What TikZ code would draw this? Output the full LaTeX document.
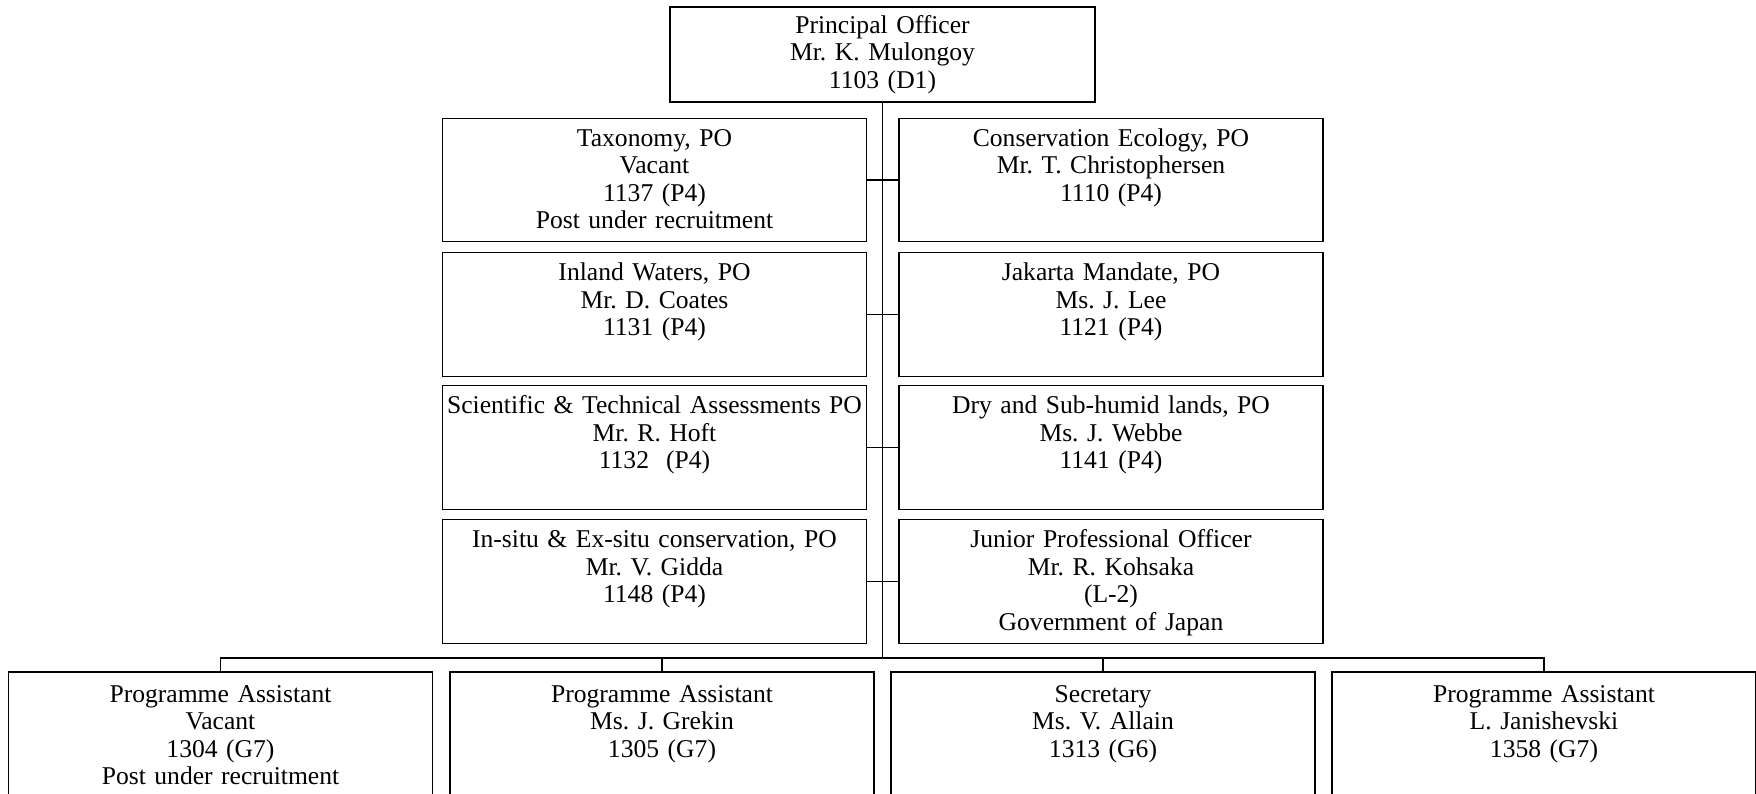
\documentclass[tikz,border=0pt]{standalone}
\usepackage{fontspec}
\setmainfont{Liberation Serif}
\frenchspacing
\begin{document}
\begin{tikzpicture}[x=0.5pt,y=-0.5pt,
  post/.style={draw, line width=0.6pt, text width=212pt, align=center,
    inner xsep=0pt, inner ysep=0pt, text height=14pt, text depth=47.75pt,
    font=\fontsize{12.8}{13.75}\selectfont},
  staff/.style={post, text height=15.1pt, text depth=46.65pt},
  head/.style={draw, line width=0.6pt, text width=212.5pt, align=center,
    inner xsep=0pt, minimum height=47.5pt,
    font=\fontsize{12.8}{13.75}\selectfont},
  link/.style={line width=0.6pt}]

\useasboundingbox (0,0) rectangle (1756,793);

\node[head] (po) at (882.5,54.5) {Principal Officer\\Mr. K. Mulongoy\\1103 (D1)};

% programme officers
\node[post] (tax) at (654.5,180) {Taxonomy, PO\\Vacant\\1137 (P4)\\Post under recruitment};
\node[post] (eco) at (1111,180) {Conservation Ecology, PO\\Mr. T. Christophersen\\1110 (P4)};
\node[post] (inl) at (654.5,314.5) {Inland Waters, PO\\Mr. D. Coates\\1131 (P4)};
\node[post] (jak) at (1111,314.5) {Jakarta Mandate, PO\\Ms. J. Lee\\1121 (P4)};
\node[post] (sta) at (654.5,447.5) {Scientific \& Technical Assessments PO\\Mr. R. Hoft\\1132~ (P4)};
\node[post] (dry) at (1111,447.5) {Dry and Sub-humid lands, PO\\Ms. J. Webbe\\1141 (P4)};
\node[post] (ins) at (654.5,581.5) {In-situ \& Ex-situ conservation, PO\\Mr. V. Gidda\\1148 (P4)};
\node[post] (jpo) at (1111,581.5) {Junior Professional Officer\\Mr. R. Kohsaka\\(L-2)\\Government of Japan};

% support staff
\node[staff] (pa1) at (220.5,733.75) {Programme Assistant\\Vacant\\1304 (G7)\\Post under recruitment};
\node[staff] (pa2) at (662,733.75) {Programme Assistant\\Ms. J. Grekin\\1305 (G7)};
\node[staff] (sec) at (1103,733.75) {Secretary\\Ms. V. Allain\\1313 (G6)};
\node[staff] (pa4) at (1544,733.75) {Programme Assistant\\L. Janishevski\\1358 (G7)};

\coordinate (bus) at (883,658);

\draw[link] (po.south) -- (po.south |- bus);
\draw[link] (tax.east) -- (eco.west);
\draw[link] (inl.east) -- (jak.west);
\draw[link] (sta.east) -- (dry.west);
\draw[link] (ins.east) -- (jpo.west);

\draw[link] (pa1.north) |- (bus) -| (pa4.north);
\draw[link] (pa2.north) -- (pa2.north |- bus);
\draw[link] (sec.north) -- (sec.north |- bus);

\end{tikzpicture}
\end{document}
